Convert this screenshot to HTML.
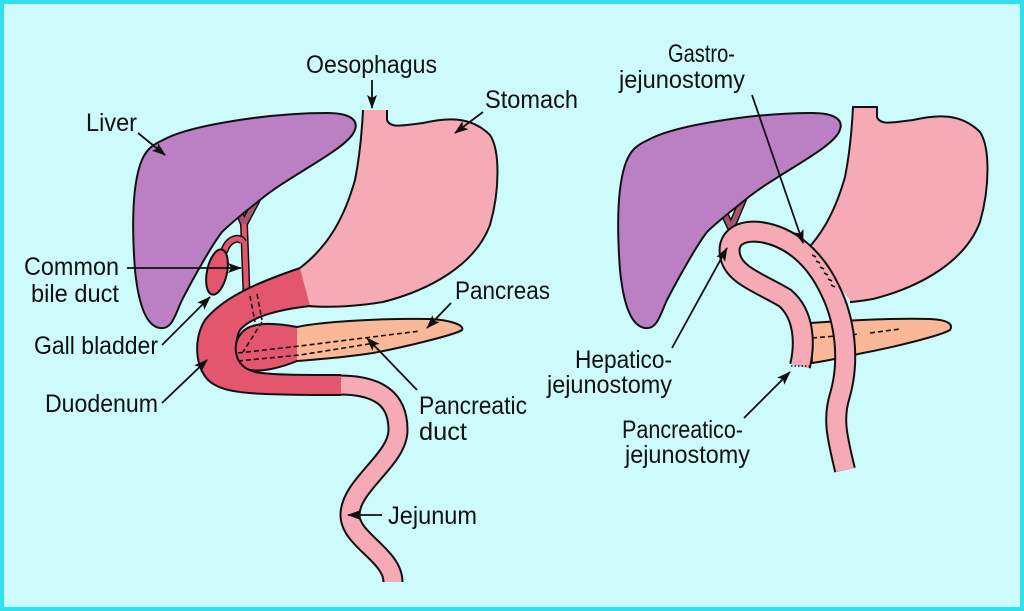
<!DOCTYPE html>
<html><head><meta charset="utf-8"><style>
html,body{margin:0;padding:0;background:#cdfbfb}
svg{display:block}
text{font-family:"Liberation Sans Narrow","Liberation Sans",sans-serif;font-size:25px;fill:#111}
</style></head><body>
<svg width="1024" height="611" viewBox="0 0 1024 611" xmlns="http://www.w3.org/2000/svg">
<defs>
<marker id="ah" markerWidth="14" markerHeight="10" refX="13" refY="5" orient="auto" markerUnits="userSpaceOnUse">
<path d="M0,0 L14,5 L0,10 L3,5 Z" fill="#111"/></marker>
<path id="liver" d="M163,140 C190,125 270,113 327,113 C350,113 360,120 354,132 C345,150 290,175 260,200 C245,212 232,222 222,232 C212,245 195,275 182,300 C175,315 172,330 160,328 C145,326 138,300 135,270 C132,230 132,190 140,165 C145,150 152,145 163,140 Z"/>
<path id="stom" d="M363,110 L387,110 L387,120 C390,128 400,126 423,123 C445,118 470,115 490,135 C500,150 500,190 490,225 C475,265 430,290 383,302 C360,306 330,308 310,308 L300,268 C330,245 345,215 355,180 C360,155 362,130 363,110 Z"/>
<path id="panc" d="M240,335 C248,322 270,322 297,327 C320,322 380,318 430,319 C450,320 465,325 462,330 C455,335 400,348 373,353 C340,358 310,360 297,361 C280,368 262,372 250,370 C235,365 232,345 240,335 Z"/>
<clipPath id="headclip"><rect x="0" y="0" width="297" height="611"/></clipPath>
<clipPath id="rclip"><polygon points="806,0 1019,0 1019,611 850,611 850,300 806,245"/></clipPath>
</defs>
<rect x="0" y="0" width="1024" height="611" fill="#cdfbfb"/>
<rect x="2" y="2" width="1020" height="607" fill="none" stroke="#2fe2ea" stroke-width="4"/>

<!-- LEFT FIGURE -->
<!-- bile ducts (behind liver) -->
<path d="M234,200 L244,224 M262,190 L244,224" stroke="#111" stroke-width="8" fill="none"/>
<path d="M234,200 L244,224 M262,190 L244,224" stroke="#a8566e" stroke-width="5" fill="none"/>
<use href="#liver" fill="#bb80c4" stroke="#111" stroke-width="2"/>
<path d="M244,224 L247,306" stroke="#111" stroke-width="8" fill="none"/>
<path d="M244,224 L247,306" stroke="#e4556e" stroke-width="5" fill="none"/>
<path d="M224,252 C228,238 240,236 243,242" stroke="#111" stroke-width="8" fill="none"/>
<path d="M224,252 C228,238 240,236 243,242" stroke="#e4556e" stroke-width="5" fill="none"/>
<ellipse cx="217" cy="272" rx="10" ry="23" transform="rotate(12 217 272)" fill="#e4556e" stroke="#111" stroke-width="2"/>

<!-- jejunum left -->
<path d="M335,385 C380,384 398,400 398,430 C398,460 350,485 350,515 C350,540 393,555 393,582" fill="none" stroke="#111" stroke-width="21"/>
<path d="M335,385 C380,384 398,400 398,430 C398,460 350,485 350,515 C350,540 393,555 393,582" fill="none" stroke="#f5aab5" stroke-width="17"/>
<use href="#stom" fill="#f5aab5"/>
<path d="M300,268 C265,280 225,295 205,320 C192,340 195,375 215,385 C230,393 250,395 341,395 L341,375 C300,375 270,375 255,372 C238,368 232,345 240,330 C250,318 275,310 310,306 Z" fill="#e4556e"/>
<path d="M300,268 C330,245 345,215 355,180 C360,155 362,130 363,110 M387,110 L387,120 C390,128 400,126 423,123 C445,118 470,115 490,135 C500,150 500,190 490,225 C475,265 430,290 383,302 C360,306 330,308 310,306 C275,310 250,318 240,330 C232,345 238,368 255,372 C270,375 300,375 341,375 M300,268 C265,280 225,295 205,320 C192,340 195,375 215,385 C230,393 250,395 341,395" fill="none" stroke="#111" stroke-width="2"/>
<use href="#panc" fill="#fbb898"/>
<use href="#panc" fill="#e4556e" clip-path="url(#headclip)"/>
<use href="#panc" fill="none" stroke="#111" stroke-width="2"/>
<path d="M250,296 L255,322 M257,294 L262,320 M262,322 L243,352 M238,353 L300,346 L420,331 M238,361 L300,355 L375,343" fill="none" stroke="#111" stroke-width="1.6" stroke-dasharray="5,3"/>

<!-- RIGHT FIGURE -->
<path d="M719,202 L731,228 M747,190 L731,228" stroke="#111" stroke-width="8" fill="none"/>
<path d="M719,202 L731,228 M747,190 L731,228" stroke="#a8566e" stroke-width="5" fill="none"/>
<use href="#liver" transform="translate(485,0)" fill="#bb80c4" stroke="#111" stroke-width="2"/>
<g clip-path="url(#rclip)"><use href="#stom" transform="translate(490,-3)" fill="#f5aab5" stroke="#111" stroke-width="2"/></g>
<path d="M810,323 C850,320 900,318 930,319 C950,320 953,325 950,330 C940,336 890,348 863,353 C840,358 820,362 812,363 Z" fill="#fbb898" stroke="#111" stroke-width="2"/>
<path d="M812,338 L860,334 M870,333 L900,329" stroke="#111" stroke-width="1.6" stroke-dasharray="5,3"/>
<path d="M845,470 C838,440 832,420 840,395 C850,360 845,320 830,290 C815,258 790,236 760,232 C740,230 727,238 730,255 C733,275 760,283 785,298 C805,315 805,345 800,366" fill="none" stroke="#111" stroke-width="22"/>
<path d="M845,470 C838,440 832,420 840,395 C850,360 845,320 830,290 C815,258 790,236 760,232 C740,230 727,238 730,255 C733,275 760,283 785,298 C805,315 805,345 800,366" fill="none" stroke="#f5aab5" stroke-width="18"/>
<path d="M791,366 L809,366" stroke="#111" stroke-width="1.5" stroke-dasharray="1.5,2"/>
<path d="M812,255 l4,2 M816,261 l4,2 M820,267 l4,2 M824,273 l4,2 M828,279 l4,2 M831,285 l4,2" stroke="#111" stroke-width="1.6"/>

<g stroke="#111" stroke-width="1.8" fill="none" marker-end="url(#ah)">
<line x1="372" y1="80" x2="372" y2="108"/>
<line x1="483" y1="112" x2="455" y2="133"/>
<line x1="138" y1="133" x2="165" y2="155"/>
<line x1="127" y1="268" x2="241" y2="268"/>
<line x1="162" y1="345" x2="210" y2="297"/>
<line x1="162" y1="403" x2="207" y2="360"/>
<line x1="451" y1="303" x2="427" y2="328"/>
<line x1="417" y1="390" x2="367" y2="338"/>
<line x1="382" y1="515" x2="348" y2="515"/>
<line x1="752" y1="95" x2="803" y2="243"/>
<line x1="672" y1="348" x2="727" y2="248"/>
<line x1="744" y1="418" x2="790" y2="372"/>
</g>

<text x="306" y="73" textLength="131" lengthAdjust="spacingAndGlyphs">Oesophagus</text>
<text x="485" y="108" textLength="93" lengthAdjust="spacingAndGlyphs">Stomach</text>
<text x="86" y="131" textLength="51" lengthAdjust="spacingAndGlyphs">Liver</text>
<text x="24" y="275" textLength="95" lengthAdjust="spacingAndGlyphs">Common</text>
<text x="31" y="302" textLength="88" lengthAdjust="spacingAndGlyphs">bile duct</text>
<text x="34" y="354" textLength="124" lengthAdjust="spacingAndGlyphs">Gall bladder</text>
<text x="45" y="412" textLength="113" lengthAdjust="spacingAndGlyphs">Duodenum</text>
<text x="455" y="299" textLength="95" lengthAdjust="spacingAndGlyphs">Pancreas</text>
<text x="419" y="414" textLength="108" lengthAdjust="spacingAndGlyphs">Pancreatic</text>
<text x="419" y="440" textLength="48" lengthAdjust="spacingAndGlyphs">duct</text>
<text x="388" y="524" textLength="89" lengthAdjust="spacingAndGlyphs">Jejunum</text>
<text x="668" y="62" textLength="67" lengthAdjust="spacingAndGlyphs">Gastro-</text>
<text x="619" y="88" textLength="126" lengthAdjust="spacingAndGlyphs">jejunostomy</text>
<text x="575" y="368" textLength="97" lengthAdjust="spacingAndGlyphs">Hepatico-</text>
<text x="547" y="393" textLength="125" lengthAdjust="spacingAndGlyphs">jejunostomy</text>
<text x="622" y="438" textLength="121" lengthAdjust="spacingAndGlyphs">Pancreatico-</text>
<text x="625" y="463" textLength="125" lengthAdjust="spacingAndGlyphs">jejunostomy</text>
</svg>
</body></html>
